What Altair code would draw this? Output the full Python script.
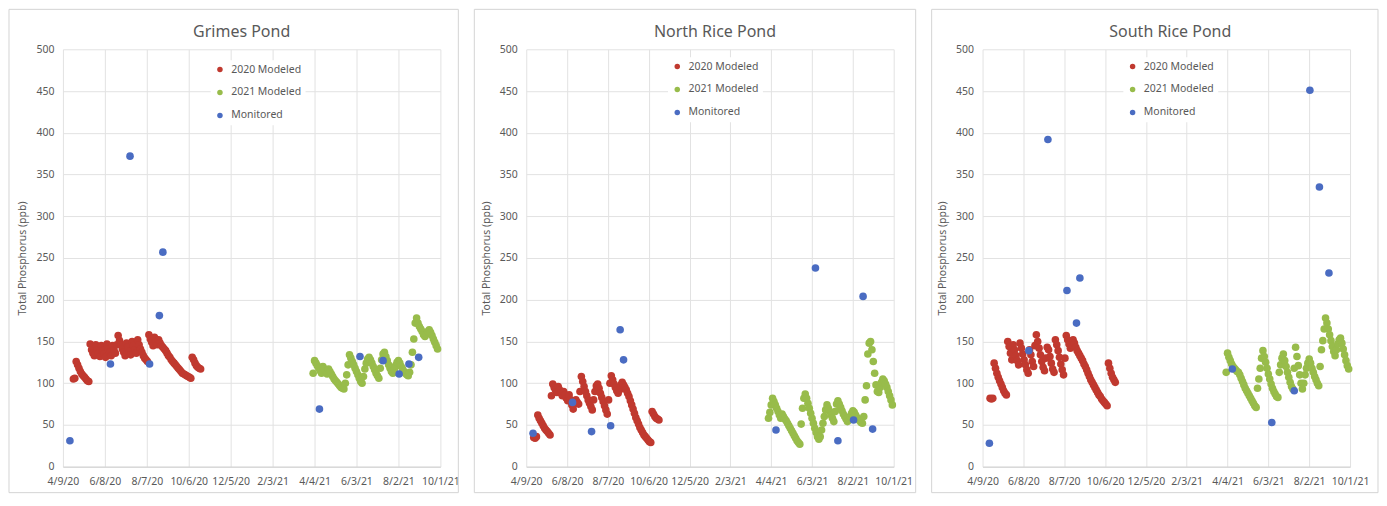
import altair as alt
import pandas as pd

BASE = pd.Timestamp("2020-04-09")

tick_days = [0, 60, 120, 180, 240, 300, 360, 420, 480, 540]
tick_labels = ["4/9/20", "6/8/20", "8/7/20", "10/6/20", "12/5/20",
               "2/3/21", "4/4/21", "6/3/21", "8/2/21", "10/1/21"]
y_ticks = [0, 50, 100, 150, 200, 250, 300, 350, 400, 450, 500]

series_names = ["2020 Modeled", "2021 Modeled", "Monitored"]
series_colors = ["#C0392F", "#98BC4B", "#4A6CC2"]

monitored_dates = ["2020-04-19", "2020-06-16", "2020-07-14", "2020-08-11",
                   "2020-08-25", "2020-08-30", "2021-04-11", "2021-06-08",
                   "2021-07-11", "2021-08-03", "2021-08-17", "2021-08-31"]

grimes_monitored = [31, 123, 372, 123, 181, 257, 69, 132, 127, 111, 123, 131]
north_monitored = [40, 77, 42, 49, 164, 128, 44, 238, 31, 56, 204, 45]
south_monitored = [28, 139, 392, 211, 172, 226, 117, 53, 91, 451, 335, 232]

# modeled series: start date, then one value every 2 days
STEP_DAYS = 2

grimes_2020_start = "2020-04-24"
grimes_2020 = [105, 106, 126, 122, 118, 114, 111, 109, 107, 105, 103, 102,
               147, 140, 136, 133, 146, 140, 136, 132, 145, 139, 135, 131, 147,
               141, 137, 133, 145, 140, 136, 146, 157, 151, 146, 141, 137, 133,
               148, 143, 138, 134, 150, 145, 140, 136, 152, 146, 141, 137, 133,
               130, 128, 126,
               158, 153, 149, 145, 155, 150, 146, 152, 148, 145,
               143, 141, 139, 136, 133, 131, 128, 126, 124, 122, 120, 118, 116,
               114, 112, 111, 110, 109, 108, 107, 106,
               131, 128, 124, 121, 119, 118, 117]
grimes_2021_start = "2021-04-02"
grimes_2021 = [112, 127, 124, 121, 118, 115, 112, 120, 117, 114, 111, 117, 114,
               111, 108, 105, 103, 101, 99, 97, 95, 94, 93,
               100, 110, 122, 134, 130, 126, 122, 118, 114, 110, 106, 102, 100,
               108, 117, 124, 129, 131, 128, 124, 120, 116, 112, 109, 106,
               118, 128, 135, 137, 132, 127, 122, 118, 114, 112,
               116, 121, 125, 127, 124, 120, 117, 114, 112, 110, 109,
               113, 122, 137, 153, 172, 178, 172, 168, 165, 162, 158, 156, 159,
               162, 164, 161, 157, 153, 149, 145, 141]

north_2020_start = "2020-04-20"
north_2020 = [35, 34, 36, 62, 58, 55, 52, 49, 46, 44, 42, 40, 38,
              85, 99, 95, 92, 89, 96, 92, 88, 85, 90, 86, 82, 79, 86, 80, 74,
              69, 78, 80, 77, 75,
              90, 108, 102, 96, 90, 85, 80, 76, 72, 68,
              80, 90, 97, 99, 94, 88, 83, 78, 73, 68, 63,
              80, 100, 109, 104, 99, 95, 91, 88,
              92, 98, 101, 98, 95, 92, 88, 84, 79, 74, 69, 64, 59, 55, 51, 47,
              44, 41, 38, 36, 34, 32, 30, 29,
              66, 63, 60, 58, 57, 56]
north_2021_start = "2021-03-31"
north_2021 = [58, 65, 74, 82, 78, 74, 70, 66, 62, 58, 63, 60, 57, 55, 52, 49,
              46, 43, 40, 37, 34, 31, 29, 27,
              51, 70, 82, 87, 82, 76, 70, 64, 58, 52, 46, 41, 36, 33,
              36, 44, 52, 60, 68, 74, 70, 66, 62, 58, 54,
              66, 75, 79, 75, 71, 67, 63, 60, 57, 54,
              56, 60, 64, 67, 65, 62, 59, 57, 55, 53, 52,
              60, 80, 97, 135, 148, 150, 140, 126, 112, 98, 90, 89, 95, 101,
              105, 103, 99, 95, 90, 85, 80, 74]

south_2020_start = "2020-04-20"
south_2020 = [82, 81, 82, 124, 118, 112, 107, 103, 99, 95, 91, 88, 86,
              150, 144, 136, 128, 146, 140, 133, 127, 122, 148, 142, 135, 128,
              122, 116, 112,
              140, 134, 126, 120, 145, 158, 150, 142, 134, 126, 119, 115,
              130, 143, 140, 132, 124, 117, 113,
              152, 146, 139, 131, 123, 116, 110, 130,
              157, 152, 147, 142, 146, 152, 148, 143, 139, 136, 133, 130, 127,
              123, 120, 116, 112, 108, 104, 101, 98, 95, 92, 89, 86, 84, 81,
              79, 77, 75, 73,
              124, 118, 112, 107, 104, 101]
south_2021_start = "2021-04-02"
south_2021 = [113, 136, 131, 127, 123, 120, 118, 116, 114, 113, 110, 106, 102,
              98, 94, 91, 88, 85, 82, 79, 76, 73, 71,
              94, 105, 118, 130, 139, 132, 125, 118, 111, 105, 99, 94, 90, 87,
              84, 83,
              113, 122, 130, 135, 127, 120, 113, 107, 101, 96, 93,
              118, 143, 132, 121, 110, 100, 93,
              100, 110, 118, 124, 129, 124, 118, 113, 108, 104, 100, 97,
              120, 140, 151, 165, 178, 172, 165, 158, 151, 144, 138, 133, 140,
              147, 152, 154, 148, 141, 134, 127, 121, 117]

FONT = "Noto Sans"
TEXT = "#595959"
GRID = "#e2e2e2"


def day_of(ts):
    return (pd.Timestamp(ts) - BASE).days


def build_frame(s2020, v2020, s2021, v2021, monitored):
    rows = []
    for i, v in enumerate(v2020):
        rows.append({"day": day_of(s2020) + STEP_DAYS * i, "value": v, "series": series_names[0]})
    for i, v in enumerate(v2021):
        rows.append({"day": day_of(s2021) + STEP_DAYS * i, "value": v, "series": series_names[1]})
    for d, v in zip(monitored_dates, monitored):
        rows.append({"day": day_of(d), "value": v, "series": series_names[2]})
    return pd.DataFrame(rows)


label_expr = "[" + ",".join("'%s'" % t for t in tick_labels) + "][round(datum.value/60)]"


def panel(title, dx, width, df, legend_x, legend_y, fx0, fx1):
    height = 418
    frame = alt.Chart(pd.DataFrame({"f": [0]})).mark_rect(
        fillOpacity=0, stroke="#d4d4d4", strokeWidth=1
    ).encode(
        x=alt.value(fx0), x2=alt.value(width + fx1),
        y=alt.value(-40), y2=alt.value(444),
    )
    pts = alt.Chart(df).mark_circle(size=58, opacity=1).encode(
        x=alt.X("day:Q",
                scale=alt.Scale(domain=[0, 540], nice=False, zero=False),
                axis=alt.Axis(values=tick_days, labelExpr=label_expr, title=None,
                              ticks=False, labelFlush=False, labelOverlap=False,
                              labelPadding=10, domainColor="#d0d0d0", grid=True)),
        y=alt.Y("value:Q",
                scale=alt.Scale(domain=[0, 500], nice=False),
                axis=alt.Axis(values=y_ticks, title="Total Phosphorus (ppb)",
                              ticks=False, domain=False, labelPadding=9,
                              titlePadding=8, titleFontSize=10.5,
                              titleFontWeight="normal", titleColor=TEXT,
                              titleFont=FONT)),
        color=alt.Color("series:N",
                        scale=alt.Scale(domain=series_names, range=series_colors),
                        legend=alt.Legend(title=None, orient="none",
                                          legendX=legend_x, legendY=legend_y,
                                          fillColor="white", padding=4,
                                          labelFont=FONT, labelFontSize=10.5,
                                          labelColor=TEXT, labelOffset=6,
                                          symbolType="circle", symbolSize=30,
                                          symbolStrokeWidth=0, rowPadding=12)),
    )
    return alt.layer(frame, pts).properties(
        width=width, height=height,
        title=alt.TitleParams(text=title, font=FONT, fontSize=16,
                              fontWeight="normal", color=TEXT, dx=dx,
                              offset=-31, anchor="middle", frame="group"),
    )


p1 = panel("Grimes Pond", -10, 378,
           build_frame(grimes_2020_start, grimes_2020, grimes_2021_start, grimes_2021, grimes_monitored),
           148, 11, -54, 18)
p2 = panel("North Rice Pond", 5, 368,
           build_frame(north_2020_start, north_2020, north_2021_start, north_2021, north_monitored),
           142, 8, -52, 22)
p3 = panel("South Rice Pond", 4, 368,
           build_frame(south_2020_start, south_2020, south_2021_start, south_2021, south_monitored),
           141, 8, -51, 28)

chart = alt.hconcat(p1, p2, p3, spacing=14).resolve_scale(
    color="independent"
).properties(padding=0).configure_axis(
    gridColor=GRID, labelColor=TEXT, labelFont=FONT, labelFontSize=10.5
).configure_view(stroke=None)

chart.save("out.html", embed_options={"renderer": "svg", "actions": False})
